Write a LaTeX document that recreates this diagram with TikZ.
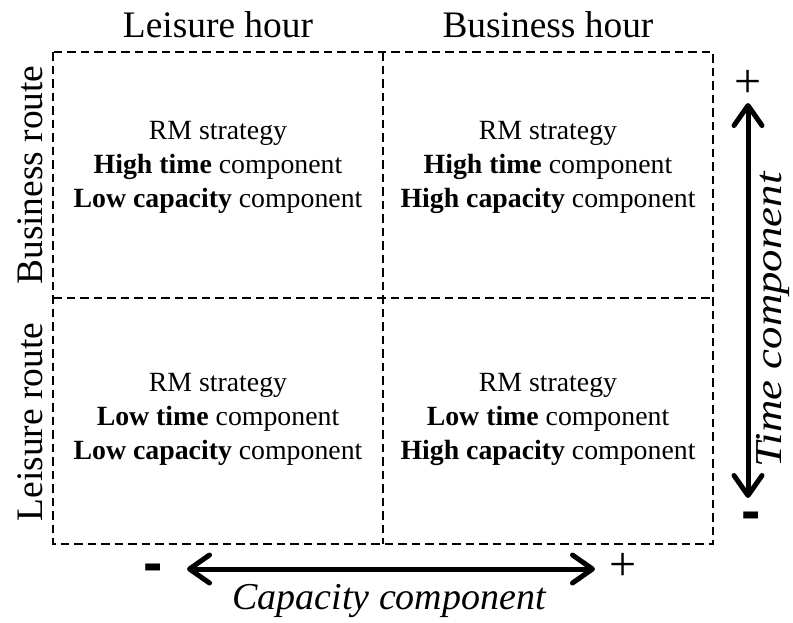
\documentclass[tikz,border=0pt]{standalone}
\usepackage{fontspec}
\setmainfont{Liberation Serif}
\newfontfamily\minusfont{Liberation Sans}
\usetikzlibrary{arrows.meta}
\begin{document}
\begin{tikzpicture}[x=1pt,y=-1pt,
  gridline/.style={line width=2.1pt, dash pattern=on 8.5pt off 5pt},
  celltext/.style={align=center, inner sep=0pt, anchor=north,
    font=\fontsize{27.8}{34}\selectfont},
  header/.style={inner sep=0pt, anchor=base, font=\fontsize{37.4}{44}\selectfont},
  axisarrow/.style={line width=5pt,
    {Straight Barb[length=20pt,width=28pt,round]}-{Straight Barb[length=20pt,width=28pt,round]}},
  axislabel/.style={inner sep=0pt, anchor=base, font=\fontsize{38}{44}\selectfont\itshape},
  plussign/.style={inner sep=0pt, font=\fontsize{48}{50}\selectfont},
  minussign/.style={inner sep=0pt, font=\minusfont\bfseries\fontsize{58}{60}\selectfont}]
\useasboundingbox (0,0) rectangle (793,622);

% grid
\coordinate (tl) at (53,52);
\coordinate (br) at (713,544);
\coordinate (mt) at (383,52);
\coordinate (mb) at (383,544);
\coordinate (ml) at (53,298);
\coordinate (mr) at (713,298);
\draw[gridline] (tl) rectangle (br);
\draw[gridline] (mt) -- (mb);
\draw[gridline] (ml) -- (mr);

% cells
\node[celltext] (c11) at (218,121) {RM strategy\\\textbf{High time} component\\\textbf{Low capacity} component};
\node[celltext] (c12) at (548,121) {RM strategy\\\textbf{High time} component\\\textbf{High capacity} component};
\node[celltext] (c21) at (218,373) {RM strategy\\\textbf{Low time} component\\\textbf{Low capacity} component};
\node[celltext] (c22) at (548,373) {RM strategy\\\textbf{Low time} component\\\textbf{High capacity} component};

% headers
\node[header] (h1) at (218,37) {Leisure hour};
\node[header] (h2) at (548,37) {Business hour};
\node[header, rotate=90] (r1) at (42,175) {Business route};
\node[header, rotate=90] (r2) at (42,422) {Leisure route};

% time axis
\coordinate (tA) at (748,103);
\coordinate (tB) at (748,498);
\draw[axisarrow] (tA) -- (tB);
\node[plussign] (tplus) at (748,84) {+};
\node[minussign] (tminus) at (751,521) {-};
\node[axislabel, rotate=90, xscale=1.18] (tlab) at (781,320) {Time component};

% capacity axis
\coordinate (cA) at (187,569);
\coordinate (cB) at (595,569);
\draw[axisarrow] (cA) -- (cB);
\node[plussign] (cplus) at (623,567) {+};
\node[minussign] (cminus) at (153,573) {-};
\node[axislabel] (clab) at (389,609) {Capacity component};
\end{tikzpicture}
\end{document}
